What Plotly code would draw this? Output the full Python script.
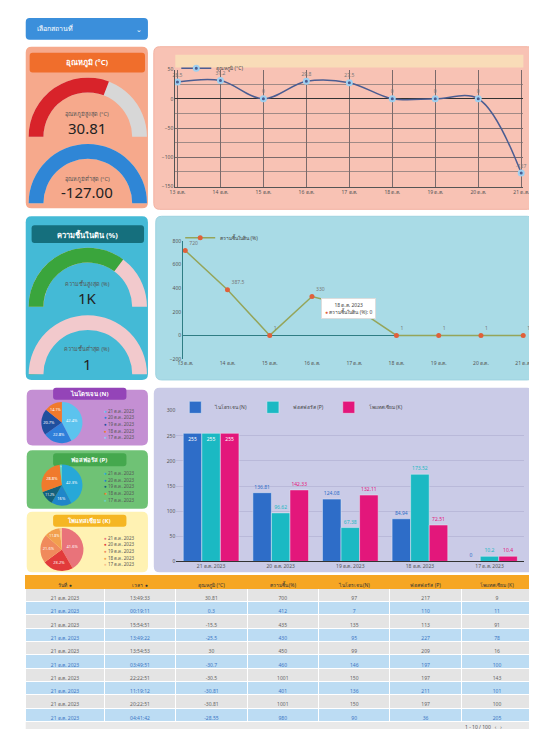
import plotly.graph_objects as go

W, H = 537, 729
def px(x): return x / W
def py(y): return 1 - y / H

FONT = "Noto Sans, Roboto, sans-serif"

# ---------------- data ----------------
line_dates = ["13 ต.ค.", "14 ต.ค.", "15 ต.ค.", "16 ต.ค.", "17 ต.ค.", "18 ต.ค.", "19 ต.ค.", "20 ต.ค.", "21 ต.ค."]
temp_values = [28.5, 31.2, 0, 29.8, 27.5, 0, 0, 0, -127]
moist_values = [720, 387.5, 1, 330, 240, 1, 1, 1, 1]

bar_dates = ["21 ต.ค. 2023", "20 ต.ค. 2023", "19 ต.ค. 2023", "18 ต.ค. 2023", "17 ต.ค. 2023"]
n_values = [255, 136.81, 124.08, 84.94, 0]
p_values = [255, 96.62, 67.38, 173.52, 10.2]
k_values = [255, 142.33, 132.11, 72.51, 10.4]

gauge_temp_max = 30.81
gauge_temp_min = -127.00
gauge_moist_max = 1000
gauge_moist_min = 1

table_header = ["วันที่ ●", "เวลา ●", "อุณหภูมิ (°C)", "ความชื้น (%)", "ไนโตรเจน (N)", "ฟอสฟอรัส (P)", "โพแทสเซียม (K)"]
tbl_date = ["21 ต.ค. 2023", "21 ต.ค. 2023", "21 ต.ค. 2023", "21 ต.ค. 2023", "21 ต.ค. 2023",
            "21 ต.ค. 2023", "21 ต.ค. 2023", "21 ต.ค. 2023", "21 ต.ค. 2023", "21 ต.ค. 2023"]
tbl_time = ["13:49:33", "00:19:11", "15:54:51", "13:49:22", "13:54:53",
            "03:49:51", "22:22:51", "11:19:12", "20:22:51", "04:41:42"]
tbl_temp = ["30.81", "0.3", "-15.5", "-25.5", "30", "-30.7", "-30.5", "-30.81", "-30.81", "-28.55"]
tbl_hum = ["700", "412", "435", "430", "450", "460", "1001", "401", "1001", "980"]
tbl_n = ["97", "7", "135", "95", "99", "146", "150", "136", "150", "90"]
tbl_p = ["217", "110", "113", "227", "209", "197", "197", "211", "197", "36"]
tbl_k = ["9", "11", "91", "78", "16", "100", "143", "101", "100", "205"]

# ---------------- helpers ----------------
shapes = []
annotations = []

def rrect(x0, y0, x1, y1, color, r=6, line=None):
    rx, ry = r / W, r / H
    X0, X1 = px(x0), px(x1)
    Yt, Yb = py(y0), py(y1)
    path = (f"M {X0+rx},{Yt} L {X1-rx},{Yt} Q {X1},{Yt} {X1},{Yt-ry} "
            f"L {X1},{Yb+ry} Q {X1},{Yb} {X1-rx},{Yb} L {X0+rx},{Yb} "
            f"Q {X0},{Yb} {X0},{Yb+ry} L {X0},{Yt-ry} Q {X0},{Yt} {X0+rx},{Yt} Z")
    shapes.append(dict(type="path", xref="paper", yref="paper", path=path,
                       fillcolor=color, line=dict(width=1 if line else 0, color=line or color),
                       layer="below"))

def text(x, y, t, size=7, color="#333", bold=False, xanchor="center", bg=None, border=None, pad=3):
    annotations.append(dict(x=px(x), y=py(y), xref="paper", yref="paper", text=("<b>%s</b>" % t) if bold else t,
                            showarrow=False, xanchor=xanchor, yanchor="middle",
                            font=dict(size=size, color=color, family=FONT),
                            bgcolor=bg, bordercolor=border, borderwidth=1 if border else 0, borderpad=pad))

# ---------------- panels ----------------
rrect(12, 7, 137, 29, "#3b8fdb", r=4)
text(20, 18, "เลือกสถานที่", size=7, color="white", xanchor="left")
text(128, 19, "⌄", size=7, color="white")

rrect(12, 36, 137, 199, "#f6a98c")
rrect(16, 42, 134, 62, "#f06e2c", r=3)
text(75, 52, "อุณหภูมิ (°C)", size=7.5, color="white", bold=True)
rrect(143, 36, 531, 200, "#f8c2b4", line="#f3b3a3")
shapes.append(dict(type="rect", xref="paper", yref="paper", x0=px(165), x1=px(521), y0=py(57), y1=py(44),
                   fillcolor="#f9dcb8", line=dict(width=0), layer="below"))

rrect(12, 207, 137, 372, "#44bad6")
rrect(18, 216, 133, 234, "#156f7d", r=3)
text(75, 225, "ความชื้นในดิน (%)", size=7.5, color="white", bold=True)
rrect(145, 207, 531, 372, "#a9dbe6", line="#9fd3e0")

rrect(13, 382, 137, 438, "#c48fd3")
rrect(40, 380, 115, 392, "#9444b8", r=3)
text(77, 386, "ไนโตรเจน (N)", size=6, color="white", bold=True)
rrect(13, 443, 137, 502, "#6fc275")
rrect(40, 446, 115, 459, "#45a84e", r=3)
text(77, 452.5, "ฟอสฟอรัส (P)", size=6, color="white", bold=True)
rrect(13, 505, 137, 566, "#fff2b3")
rrect(40, 508, 115, 520, "#f5b623", r=3)
text(77, 514, "โพแทสเซียม (K)", size=6, color="white", bold=True)

rrect(143, 380, 531, 566, "#cacbe7")

# ---------------- gauges ----------------
traces = []
def gauge(value, rng, color, bg, x0, x1, y0, y1):
    traces.append(go.Indicator(
        mode="gauge", value=value,
        domain=dict(x=[px(x0), px(x1)], y=[py(y1), py(y0)]),
        gauge=dict(shape="angular", axis=dict(range=rng, visible=False),
                   bar=dict(color=color, thickness=1), bgcolor=bg, borderwidth=0)))

gauge(gauge_temp_max, [0, 50], "#d8232a", "#d7d7d7", 15, 136, 66, 128)
gauge(gauge_temp_min, [-177, -127], "#2f86d6", "#d7d7d7", 15, 136, 132, 196)
gauge(gauge_moist_max, [0, 1420], "#3aa53c", "#f2c9cc", 15, 136, 238, 299)
gauge(gauge_moist_min, [0, 1000], "#3aa53c", "#f2c9cc", 15, 136, 306, 367)

text(75, 104, "อุณหภูมิสูงสุด (°C)", size=5.5, color="#555")
text(75, 118, "%.2f" % gauge_temp_max, size=15, color="#222")
text(75, 169, "อุณหภูมิต่ำสุด (°C)", size=5.5, color="#555")
text(75, 183, "%.2f" % gauge_temp_min, size=15, color="#222")
text(75, 275, "ความชื้นสูงสุด (%)", size=5.5, color="#555")
text(75, 289, "1K", size=15, color="#222")
text(75, 341, "ความชื้นต่ำสุด (%)", size=5.5, color="#555")
text(75, 356, "%d" % gauge_moist_min, size=15, color="#222")

# ---------------- line chart 1 ----------------
traces.append(go.Scatter(
    x=line_dates, y=temp_values, mode="lines+markers+text", name="อุณหภูมิ (°C)",
    line=dict(color="#4b5d92", width=1.5, shape="spline"),
    marker=dict(color="#4b5d92", size=5, line=dict(color="#9fd0f0", width=2)),
    text=["%g" % v for v in temp_values], textposition="top center",
    textfont=dict(size=5, color="#777"), xaxis="x", yaxis="y", legend="legend", cliponaxis=False))

# ---------------- line chart 2 ----------------
traces.append(go.Scatter(
    x=line_dates, y=moist_values, mode="lines+markers+text", name="ความชื้นในดิน (%)",
    line=dict(color="#95a55a", width=1.5),
    marker=dict(color="#e0603a", size=5),
    text=["%g" % v for v in moist_values], textposition="top right",
    textfont=dict(size=5, color="#777"), xaxis="x2", yaxis="y2", legend="legend2", cliponaxis=False))

# ---------------- bar chart ----------------
for name, vals, col in [("ไนโตรเจน (N)", n_values, "#2e6dc8"),
                        ("ฟอสฟอรัส (P)", p_values, "#1bb9c3"),
                        ("โพแทสเซียม (K)", k_values, "#e3177b")]:
    traces.append(go.Bar(x=bar_dates, y=vals, name=name, marker=dict(color=col),
                         text=["%g" % v for v in vals],
                         textposition=["inside"] + ["outside"] * (len(vals) - 1),
                         insidetextanchor="end", textangle=0, cliponaxis=False,
                         textfont=dict(size=5, color=col), insidetextfont=dict(size=5, color="white"),
                         outsidetextfont=dict(size=5, color=col),
                         xaxis="x3", yaxis="y3", legend="legend3"))

# ---------------- pies ----------------
pie_n_colors = ["#5cc3ee", "#2f7fda", "#1f4f9e", "#f07a2c", "#8ad0f2"]
pie_p_colors = ["#27a8d8", "#1f86c9", "#15607c", "#f07a2c", "#6ad2c4"]
pie_k_colors = ["#e9737a", "#e23b3b", "#f08a5c", "#f2a04e", "#f7c08a"]
for vals, cols, cx, cy, r in [(n_values, pie_n_colors, 49, 415, 21),
                              (p_values, pie_p_colors, 49, 478, 21),
                              (k_values, pie_k_colors, 49, 543, 22)]:
    traces.append(go.Pie(labels=bar_dates, values=vals, marker=dict(colors=cols),
                         domain=dict(x=[px(cx - r), px(cx + r)], y=[py(cy + r), py(cy - r)]),
                         textinfo="percent", textposition="inside", textfont=dict(size=4, color="white"),
                         showlegend=False, sort=False, direction="clockwise", rotation=0))
    ly0 = cy - 12
    for i, lab in enumerate(bar_dates):
        annotations.append(dict(x=px(90), y=py(ly0 + i * 6.7), xref="paper", yref="paper",
                                text="<span style='color:%s'>●</span> %s" % (cols[i], lab),
                                showarrow=False, xanchor="left", yanchor="middle",
                                font=dict(size=4.5, color="#555", family=FONT)))

# ---------------- table ----------------
row_fill = ["#e4e4e4" if i % 2 == 0 else "#bcdcf3" for i in range(10)]
row_font = ["#666" if i % 2 == 0 else "#3d77c4" for i in range(10)]
traces.append(go.Table(
    domain=dict(x=[px(12), px(531)], y=[py(717), py(569)]),
    columnwidth=[1.1, 1, 1, 1, 1, 1, 1],
    header=dict(values=table_header, fill_color="#f6a623",
                line_color="#f6a623", font=dict(size=5, color="#333", family=FONT), height=13),
    cells=dict(values=[tbl_date, tbl_time, tbl_temp, tbl_hum, tbl_n, tbl_p, tbl_k],
               fill_color=[row_fill] * 7, line_color="#ffffff",
               font=dict(size=5, color=[row_font] * 7, family=FONT), height=13.3)))
shapes.append(dict(type="rect", xref="paper", yref="paper", x0=px(12), x1=px(531), y0=py(729), y1=py(717),
                   fillcolor="#e9e9e9", line=dict(width=0), layer="below"))
text(480, 722, "1 - 10 / 100   ‹   ›", size=5, color="#555", pad=0)

# tooltip on chart 2
text(342, 300, "18 ต.ค. 2023<br><span style='color:#e0603a'>●</span> ความชื้นในดิน (%): 0",
     size=5, color="#444", bg="white", border="#dddddd")

fig = go.Figure(traces)

axfont = dict(size=5, color="#555", family=FONT)
fig.update_layout(
    width=W, height=H, margin=dict(l=0, r=0, t=0, b=0),
    paper_bgcolor="white", plot_bgcolor="rgba(0,0,0,0)",
    font=dict(family=FONT), shapes=shapes, annotations=annotations,
    showlegend=True,
    xaxis=dict(domain=[px(165), px(521)], anchor="y", showgrid=True, gridcolor="#7a6a6a", gridwidth=0.5,
               tickfont=axfont, showline=True, linecolor="#555", zeroline=False, range=[-0.05, 8.05]),
    yaxis=dict(domain=[py(177), py(59)], anchor="x", range=[-150, 50], dtick=50, tickfont=axfont,
               gridcolor="#7a6a6a", gridwidth=0.5, minor=dict(dtick=25, showgrid=True, gridcolor="#a08a86", gridwidth=0.4),
               zeroline=True, zerolinecolor="#333", zerolinewidth=1, showline=True, linecolor="#555"),
    xaxis2=dict(domain=[px(173), px(523)], anchor="y2", showgrid=False, tickfont=axfont,
                showline=False, zeroline=False, range=[-0.05, 8.05]),
    yaxis2=dict(domain=[py(351), py(232)], anchor="x2", range=[-200, 800], dtick=200, tickfont=axfont,
                showgrid=False, zeroline=True, zerolinecolor="#2f7d84", zerolinewidth=1.2,
                showline=True, linecolor="#2f7d84"),
    xaxis3=dict(domain=[px(166), px(522)], anchor="y3", tickfont=axfont, showline=True,
                linecolor="#333", showgrid=False),
    yaxis3=dict(domain=[py(555), py(403)], anchor="x3", range=[0, 300], dtick=50, tickfont=axfont,
                showgrid=True, gridcolor="#b9b9d9", zeroline=False),
    barmode="group", bargap=0.2, bargroupgap=0.0,
    legend=dict(x=px(166), y=py(43), xanchor="left", yanchor="top", bgcolor="rgba(0,0,0,0)",
                font=dict(size=5, color="#444"), orientation="h"),
    legend2=dict(x=px(170), y=py(214), xanchor="left", yanchor="top", bgcolor="rgba(0,0,0,0)",
                 font=dict(size=5, color="#444"), orientation="h"),
    legend3=dict(x=px(165), y=py(385), xanchor="left", yanchor="top", bgcolor="rgba(0,0,0,0)",
                 font=dict(size=5, color="#444"), orientation="h"),
)

fig.write_html("out.html")
